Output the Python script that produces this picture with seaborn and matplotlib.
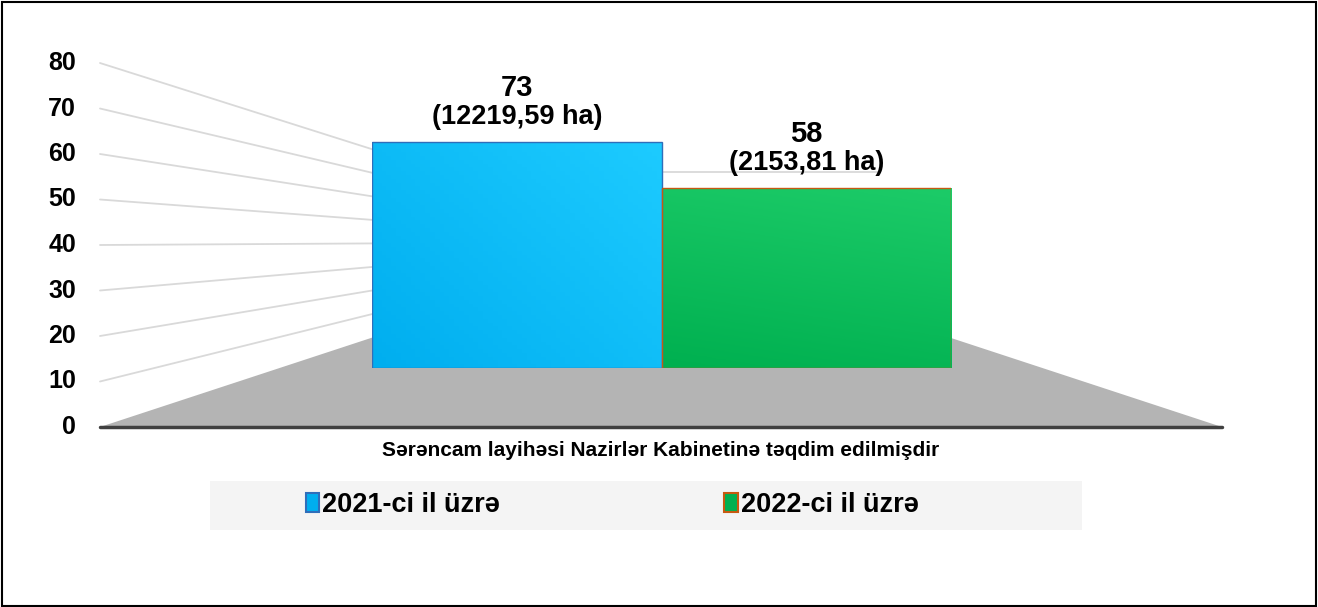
import numpy as np
import pandas as pd
import matplotlib
matplotlib.use("Agg")
import matplotlib.pyplot as plt
import matplotlib.patches as mpatches
from matplotlib.colors import LinearSegmentedColormap
import seaborn as sns

# chart data
series = ["2021-ci il üzrə", "2022-ci il üzrə"]
counts = [73, 58]
areas = ["12219,59 ha", "2153,81 ha"]
category = "Sərəncam layihəsi Nazirlər Kabinetinə təqdim edilmişdir"
y_ticks = [0, 10, 20, 30, 40, 50, 60, 70, 80]

bar_colors = ["#00AEEF", "#00B050"]
bar_light = ["#1DCBFF", "#1CCB68"]
bar_edges = ["#2F6EBA", "#C55A11"]

W, H = 1318, 607

# fake Excel 3D perspective (pixel space of the figure)
FRONT_X, BACK_X, BACK_X2, FRONT_X2 = 100, 444, 878, 1222
FRONT_Y0, FRONT_STEP = 427, 4.55
BACK_Y0, BACK_STEP = 314, 1.775
BAR_Y0, BAR_STEP = 368, 3.1
BAR_LEFT, BAR_RIGHT = 372, 951
Y_MAX = 80

sns.set_theme(style="white")
plt.rcParams['font.family'] = ['Liberation Sans', 'DejaVu Sans']
plt.rcParams['text.color'] = 'black'

fig = plt.figure(figsize=(W / 100, H / 100), dpi=100)
fig.patch.set_facecolor("white")

# background axes in pixel coordinates
ax = fig.add_axes([0, 0, 1, 1])
ax.set_xlim(0, W)
ax.set_ylim(H, 0)
ax.axis("off")

# floor
floor = mpatches.Polygon([(FRONT_X, FRONT_Y0), (BACK_X, BACK_Y0), (BACK_X2, BACK_Y0), (FRONT_X2, FRONT_Y0)],
                         closed=True, facecolor="#B4B4B4", edgecolor="none", zorder=1)
ax.add_patch(floor)

# gridlines on side wall + back wall, and the tick labels
for v in y_ticks:
    fy = FRONT_Y0 - v * FRONT_STEP
    by = BACK_Y0 - v * BACK_STEP
    if v > 0:
        ax.plot([FRONT_X, BACK_X, BACK_X2], [fy, by, by], color="#D9D9D9", lw=1.3, zorder=0.5)
    ax.text(76, fy, str(v), ha="right", va="center", fontsize=18, fontweight="bold", color="black")

# front axis line
ax.plot([FRONT_X, FRONT_X2], [FRONT_Y0, FRONT_Y0], color="#404040", lw=2.5, solid_capstyle="round", zorder=2)

# category label
ax.text(661, 450, category, ha="center", va="center", fontsize=15, fontweight="bold", color="black")

# legend background + legend
ax.add_patch(mpatches.Rectangle((210, 481), 872, 49, facecolor="#F4F4F4", edgecolor="none", zorder=1))
handles = [mpatches.Patch(facecolor=c, edgecolor=e, lw=1.5, label=s)
           for c, e, s in zip(bar_colors, bar_edges, series)]
leg = ax.legend(handles=handles, loc="center", bbox_to_anchor=(612, 505), bbox_transform=ax.transData,
                ncol=2, frameon=False, handlelength=0.5, handleheight=0.7, handletextpad=0.1,
                columnspacing=8.3, prop={"size": 19.5, "weight": "bold"})
for t in leg.get_texts():
    t.set_color("black")

# border
fig.patches.append(mpatches.Rectangle((1.5 / W, 1.5 / H), 1 - 3.5 / W, 1 - 3.5 / H, transform=fig.transFigure,
                                      fill=False, edgecolor="black", lw=1.5, zorder=10))

# bars
df = pd.DataFrame({"series": series, "count": counts})
bax = fig.add_axes([BAR_LEFT / W, (H - BAR_Y0) / H, (BAR_RIGHT - BAR_LEFT) / W, Y_MAX * BAR_STEP / H])
bax.patch.set_alpha(0)
sns.barplot(data=df, x="series", y="count", hue="series", palette=bar_colors, width=1.0,
            legend=False, ax=bax, saturation=1)
bax.set_xlim(-0.5, 1.5)
bax.set_ylim(0, Y_MAX)
bax.axis("off")

for i, patch in enumerate(bax.patches):
    x0, y0 = patch.get_x(), patch.get_y()
    w, h = patch.get_width(), patch.get_height()
    gx, gy = np.meshgrid(np.linspace(0, 1, 60), np.linspace(0, 1, 60))
    if i == 0:
        grad = 0.55 * gx + 0.45 * gy
    else:
        grad = 0.2 * gx + 0.8 * gy
    cmap = LinearSegmentedColormap.from_list("g%d" % i, [bar_colors[i], bar_light[i]])
    im = bax.imshow(grad, extent=[x0, x0 + w, y0, y0 + h], origin="lower", cmap=cmap,
                    aspect="auto", zorder=patch.get_zorder() - 0.1)
    im.set_clip_path(patch)
    patch.set_facecolor("none")
    patch.set_edgecolor(bar_edges[i])
    patch.set_linewidth(1.0)
    cx = x0 + w / 2
    bax.annotate(str(counts[i]), (cx, y0 + h), xytext=(0, 39), textcoords="offset points",
                 ha="center", va="center", fontsize=21, fontweight="bold", color="black",
                 annotation_clip=False)
    bax.annotate("(%s)" % areas[i], (cx, y0 + h), xytext=(0, 18), textcoords="offset points",
                 ha="center", va="center", fontsize=19.5, fontweight="bold", color="black",
                 annotation_clip=False)

bax.set_xlim(-0.5, 1.5)
bax.set_ylim(0, Y_MAX)

fig.savefig("out.png", dpi=100)
